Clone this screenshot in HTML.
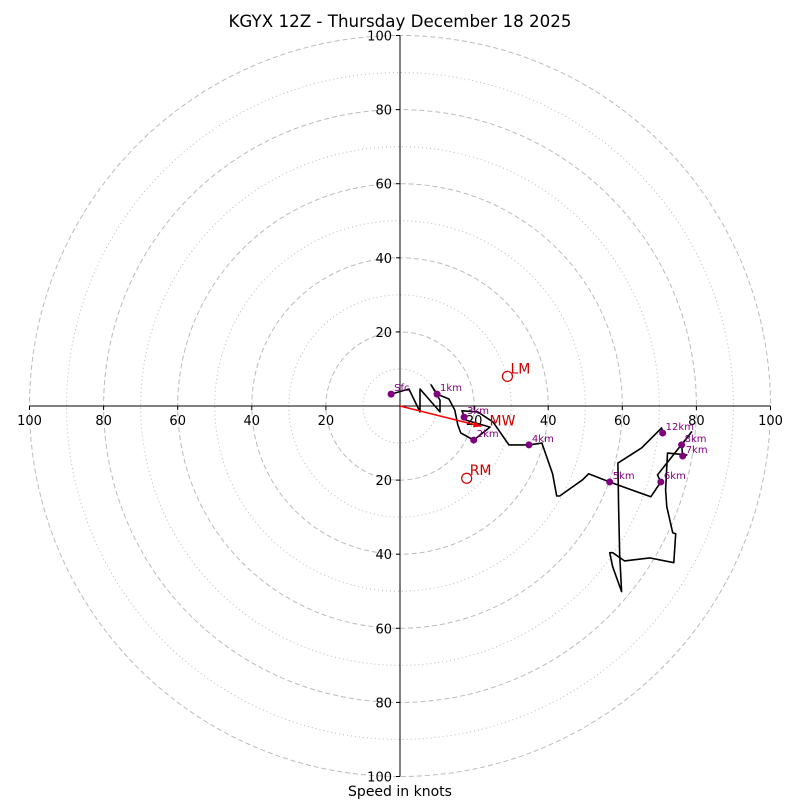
<!DOCTYPE html>
<html><head><meta charset="utf-8"><style>
body{margin:0;background:#fff}
svg{display:block;font-family:"DejaVu Sans","Liberation Sans",sans-serif}
</style></head><body>
<svg id="c" width="800" height="800">
<text x="400" y="27" text-anchor="middle" font-size="16.7">KGYX 12Z - Thursday December 18 2025</text>
<text x="400" y="796" text-anchor="middle" font-size="14">Speed in knots</text>
<g id="grid"></g><g id="axes"></g><g id="series"></g><g id="marks"></g>
</svg>
<script>
const ringValues=[10,20,30,40,50,60,70,80,90,100];
const tickValues=[20,40,60,80,100];
const pathU=[-2.4,2.4,5.4,5.4,10.8,10.8,8.4,10.0,13.2,14.8,15.6,16.4,19.9,24.3,17.8,16.7,21.0,25.1,29.4,34.8,38.3,41.2,42.3,43.1,49.3,50.9,56.6,67.7,70.4,69.5,78.7,76.0,76.3,77.4,72.2,71.7,72.0,73.6,74.4,73.9,67.4,60.6,57.4,56.6,57.4,59.8,59.3,59.0,58.8,65.2,70.6,70.9];
const pathV=[3.2,4.6,-1.6,4.6,-1.6,1.6,5.7,3.2,1.9,-1.1,-5.1,-7.3,-9.2,-5.7,-3.8,-1.3,-1.6,-4.3,-10.5,-10.5,-10.0,-18.3,-24.3,-24.3,-19.9,-18.3,-20.5,-24.5,-20.5,-18.6,-7.0,-10.5,-13.5,-13.2,-12.7,-22.6,-27.2,-34.2,-34.5,-42.3,-41.0,-41.8,-39.6,-39.6,-43.4,-50.1,-40.2,-27.2,-15.4,-11.3,-5.9,-7.3];
const markerLabels=["Sfc","1km","2km","3km","4km","5km","6km","7km","8km","12km"];
const markerU=[-2.4,10.0,19.9,17.3,34.8,56.6,70.4,76.3,76.0,70.9];
const markerV=[3.2,3.2,-9.2,-3.0,-10.5,-20.5,-20.5,-13.5,-10.5,-7.3];
const motionLabels=["LM","MW","RM"];
const motionU=[29.0,22.0,18.0];
const motionV=[8.0,-5.5,-19.5];

const NS='http://www.w3.org/2000/svg';
const cx=400,cy=406,k=3.705;
const sx=u=>cx+u*k, sy=v=>cy-v*k;
function mk(tag,attrs,parent,txt){const e=document.createElementNS(NS,tag);for(const a in attrs)e.setAttribute(a,attrs[a]);if(txt!==undefined)e.textContent=txt;parent.appendChild(e);return e;}
const grid=document.getElementById('grid'),axes=document.getElementById('axes'),series=document.getElementById('series'),marks=document.getElementById('marks');
ringValues.forEach(r=>{
 const c=mk('circle',{cx:cx,cy:cy,r:r*k,fill:'none',stroke:'#bbb','stroke-width':1,'stroke-dasharray':r%20===0?'5,3':'1,3'},grid);
 
 
});
let l=mk('line',{x1:sx(-100),y1:cy,x2:sx(100),y2:cy,stroke:'#000'},axes);


l=mk('line',{x1:cx,y1:sy(100),x2:cx,y2:sy(-100),stroke:'#000'},axes);


tickValues.forEach(t=>{
 [t,-t].forEach(s=>{
  mk('line',{x1:sx(s),y1:cy,x2:sx(s),y2:cy+4,stroke:'#000'},axes);
  let tx=mk('text',{x:sx(s),y:cy+19,'text-anchor':'middle','font-size':13},axes,String(t));
  
  
  mk('line',{x1:cx-4,y1:sy(s),x2:cx,y2:sy(s),stroke:'#000'},axes);
  let ty=mk('text',{x:cx-8,y:sy(s)+5,'text-anchor':'end','font-size':13},axes,String(t));
  
  
 });
});
const pts=pathU.map((u,i)=>sx(u).toFixed(1)+','+sy(pathV[i]).toFixed(1)).join(' ');
const pl=mk('polyline',{points:pts,fill:'none',stroke:'#000','stroke-width':1.6,'stroke-linejoin':'round'},series);


const mw=mk('line',{x1:cx,y1:cy,x2:sx(motionU[1]),y2:sy(motionV[1]),stroke:'red','stroke-width':1.6},series);


const ex=sx(motionU[1]),ey=sy(motionV[1]),ang=Math.atan2(ey-cy,ex-cx);
const ah=mk('polygon',{points:[[ex,ey],[ex-8*Math.cos(ang)+3*Math.sin(ang),ey-8*Math.sin(ang)-3*Math.cos(ang)],[ex-8*Math.cos(ang)-3*Math.sin(ang),ey-8*Math.sin(ang)+3*Math.cos(ang)]].map(p=>p.join(',')).join(' '),fill:'red'},series);


markerLabels.forEach((lab,i)=>{
 const c=mk('circle',{cx:sx(markerU[i]),cy:sy(markerV[i]),r:3.5,fill:'purple'},marks);
 
 
 const t=mk('text',{x:sx(markerU[i])+3,y:sy(markerV[i])-3,'font-size':10,fill:'purple'},marks,lab);
 
 
});
motionLabels.forEach((lab,i)=>{
 if(lab!=='MW'){
  const c=mk('circle',{cx:sx(motionU[i]),cy:sy(motionV[i]),r:5,fill:'none',stroke:'#c00','stroke-width':1.2},marks);
  
  
 }
 const t=mk('text',{x:sx(motionU[i])+(lab==='MW'?8:3),y:sy(motionV[i])+(lab==='MW'?-1:-3),'font-size':14,fill:'#c00'},marks,lab);
 
 
});
</script>
</body></html>
